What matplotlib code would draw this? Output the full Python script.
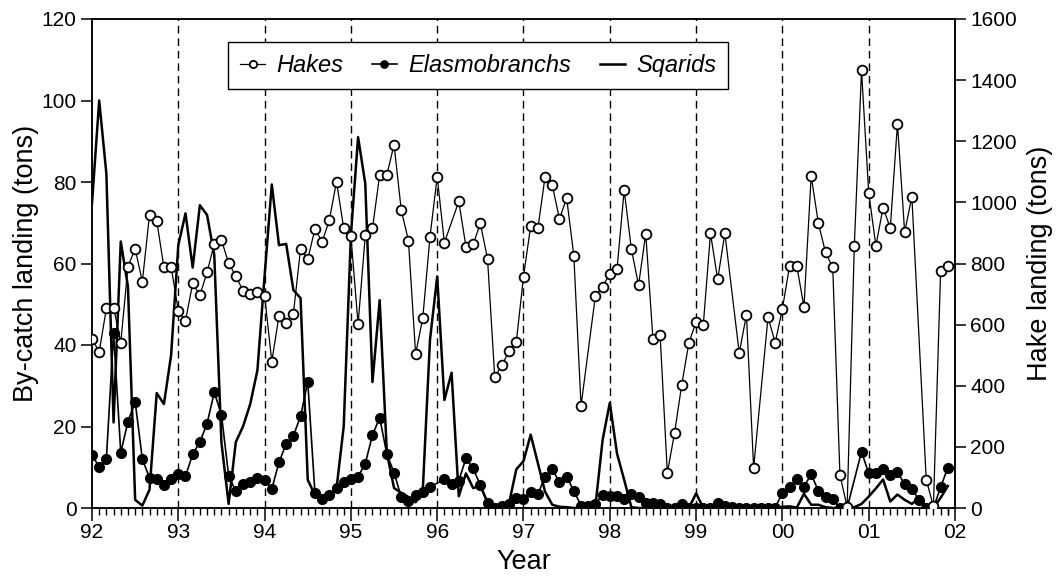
import numpy as np
import matplotlib
matplotlib.use("Agg")
import matplotlib.pyplot as plt
from matplotlib.lines import Line2D

# ---------------- data (monthly, Jan 1992 .. Dec 2001) ----------------
year_ticks = [92, 93, 94, 95, 96, 97, 98, 99, 100, 101, 102]
year_labels = ["92", "93", "94", "95", "96", "97", "98", "99", "00", "01", "02"]

nan = np.nan
# Hake landing (tons, right axis)
hakes = [
    553, 511, 653, 656, 541, 790, 848, 741, 960, 940, 787, 790,     # 1992
    645, 613, 735, 696, 771, 864, 877, 801, 759, 711, 700, 708,     # 1993
    695, 479, 629, 604, 635, 848, 814, 913, 871, 942, 1068, 915,    # 1994
    890, 601, 893, 915, 1090, 1090, 1189, 975, 875, 504, 623, 888,  # 1995
    1084, 868, nan, 1003, 855, 863, 931, 815, 428, 467, 515, 543,   # 1996
    757, 923, 915, 1084, 1056, 946, 1014, 825, 334, nan, 695, 724,  # 1997
    767, 781, 1040, 847, 729, 898, 552, 566, 114, 245, 403, 541,    # 1998
    608, 599, 899, 748, 899, nan, 507, 632, 131, nan, 624, 541,     # 1999
    652, 792, 792, 658, 1087, 932, 836, 787, 109, 3, 858, 1432,     # 2000
    1032, 858, 983, 916, 1258, 902, 1019, nan, 93, 5, 777, 791,     # 2001
]
# Elasmobranch by-catch (tons, left axis)
elasmobranchs = [
    13.1, 10.0, 12.1, 42.9, 13.6, 21.2, 26.1, 12.0, 7.4, 7.1, 5.7, 7.1,
    8.4, 7.8, 13.2, 16.2, 20.7, 28.4, 22.9, 7.9, 4.1, 6.0, 6.3, 7.4,
    6.9, 4.7, 11.2, 15.8, 17.7, 22.5, 31.0, 3.7, 2.2, 3.3, 4.9, 6.5,
    7.1, 7.7, 10.9, 17.9, 22.2, 13.2, 8.7, 2.6, 1.6, 3.2, 4.0, 5.2,
    nan, 7.0, 5.9, 6.7, 12.2, 9.7, 5.6, 1.3, 0.0, 0.5, 1.1, 2.4,
    2.2, 4.0, 3.4, 7.7, 9.5, 6.3, 7.7, 4.2, 0.6, 0.6, 1.1, 3.2,
    2.9, 2.9, 2.1, 3.5, 2.6, 1.3, 1.3, 0.9, 0.0, 0.1, 1.0, 0.1,
    0.1, 0.0, 0.0, 1.3, 0.5, 0.3, 0.0, 0.0, 0.0, 0.0, 0.0, 0.1,
    3.7, 5.2, 7.1, 5.2, 8.3, 4.2, 2.6, 2.2, 0.0, 0.0, nan, 13.8,
    8.5, 8.5, 9.6, 8.0, 8.8, 5.8, 4.7, 2.0, 0.0, 0.0, 5.1, 9.9,
]
# Squid by-catch (tons, left axis)
sqarids = [
    74.8, 100.0, 82.0, 21.0, 65.4, 54.3, 2.0, 0.6, 4.5, 28.2, 25.5, 37.5,
    64.5, 72.3, 59.0, 74.3, 71.9, 62.1, 16.0, 1.0, 16.2, 20.0, 25.5, 33.8,
    57.0, 79.4, 64.5, 64.8, 53.5, 51.5, 6.9, 3.2, 2.0, 2.5, 4.8, 20.0,
    67.0, 91.0, 79.6, 30.9, 51.0, 13.5, 4.9, 3.7, 2.7, 1.4, 4.5, 41.3,
    56.8, 26.5, 33.2, 2.9, 8.5, 4.9, 5.5, 1.3, 0.2, 0.6, 1.2, 9.5,
    11.5, 18.0, 11.0, 4.0, 0.8, 0.3, 0.2, 0.0, 0.0, 0.0, 0.5, 16.7,
    25.8, 13.4, 6.9, 0.2, 0.0, 0.0, 0.0, 0.0, 0.0, 0.0, 0.0, 0.0,
    3.6, 0.0, 0.0, 0.0, 0.0, 0.0, 0.0, 0.0, 0.0, 0.0, 0.0, 0.0,
    0.3, 0.4, 0.1, 3.5, 0.8, 0.8, 0.2, 0.0, 0.0, 0.0, 0.2, 1.0,
    2.8, 4.8, 7.0, 1.6, 3.3, 2.0, 1.0, 2.5, 0.5, 0.0, 2.5, 5.4,
]

# ---------------- plotting ----------------
plt.rcParams['font.family'] = ['Liberation Sans', 'DejaVu Sans']

months = 92 + np.arange(120) / 12.0
hk = np.array(hakes, dtype=float)
el = np.array(elasmobranchs, dtype=float)
sq = np.array(sqarids, dtype=float)

fig = plt.figure(figsize=(10.56, 5.77), dpi=100)
ax = fig.add_axes([92 / 1056, (577 - 508) / 577, (955 - 92) / 1056, (508 - 19) / 577])
ax2 = ax.twinx()

# yearly dashed separators
for yv in year_ticks[1:-1]:
    ax.axvline(yv, color='black', lw=1.0, ls=(0, (5.5, 3.5)), zorder=1)

ax.plot(months, sq, '-', color='black', lw=1.8, zorder=2)
m = ~np.isnan(el)
ax.plot(months[m], el[m], '-o', color='black', lw=1.2, ms=7, mfc='black',
        mec='black', zorder=3)
m = ~np.isnan(hk)
ax2.plot(months[m], hk[m], '-o', color='black', lw=0.9, ms=7, mfc='white',
         mec='black', mew=1.3, zorder=3)

ax.set_xlim(92, 102)
ax.set_ylim(0, 120)
ax2.set_ylim(0, 1600)
ax.set_xticks(year_ticks)
ax.set_xticklabels(year_labels)
ax.set_xticks(months[1:].tolist() + [102 - 1 / 12.0], minor=True)
ax.set_yticks(np.arange(0, 121, 20))
ax2.set_yticks(np.arange(0, 1601, 200))

for a in (ax, ax2):
    for s in a.spines.values():
        s.set_linewidth(1.1)
    a.tick_params(axis='both', which='major', direction='out', length=8,
                  width=1.1, labelsize=15, pad=3)
ax.tick_params(axis='x', which='minor', direction='out', length=5, width=1.0)
ax.tick_params(axis='x', which='major', length=9, pad=2)

ax.set_xlabel('Year', fontsize=19.5, labelpad=5)
ax.set_ylabel('By-catch landing (tons)', fontsize=19.5, labelpad=2)
ax2.set_ylabel('Hake landing (tons)', fontsize=19.5, labelpad=7)

handles = [
    Line2D([], [], color='black', lw=0.9, marker='o', ms=7, mfc='white', mew=1.3),
    Line2D([], [], color='black', lw=1.2, marker='o', ms=7, mfc='black'),
    Line2D([], [], color='black', lw=1.8),
]
leg = ax2.legend(handles, ['Hakes', 'Elasmobranchs', 'Sqarids'], ncol=3,
                 loc='upper left', bbox_to_anchor=(0.158, 0.952),
                 prop={'style': 'italic', 'size': 17}, frameon=True,
                 fancybox=False, edgecolor='black', framealpha=1,
                 handlelength=1.05, handletextpad=0.5, columnspacing=1.2,
                 borderpad=0.5, borderaxespad=0, markerscale=0.75)
leg.get_frame().set_linewidth(1.0)
leg.set_zorder(10)

fig.savefig('out.png', dpi=100)
